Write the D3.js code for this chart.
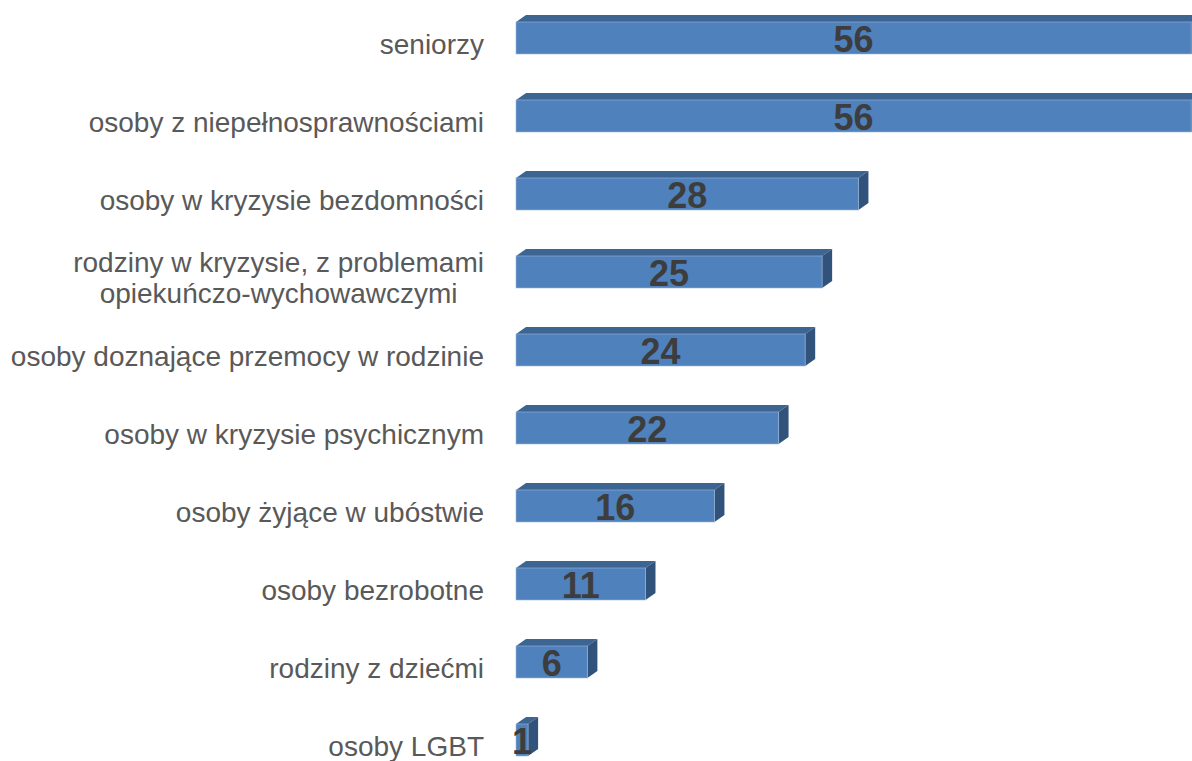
<!DOCTYPE html>
<html>
<head>
<meta charset="utf-8">
<script src="https://cdn.jsdelivr.net/npm/d3@7"></script>
<style>
  body { margin: 0; background: #fff; }
  svg { display: block; }
</style>
</head>
<body>
<div id="chart"></div>
<script>
// Categories (top to bottom) and their values (bar lengths,
// the printed labels are rounded)
const categories = [
    "seniorzy",
    "osoby z niepełnosprawnościami",
    "osoby w kryzysie bezdomności",
    "rodziny w kryzysie, z problemami\nopiekuńczo-wychowawczymi",
    "osoby doznające przemocy w rodzinie",
    "osoby w kryzysie psychicznym",
    "osoby żyjące w ubóstwie",
    "osoby bezrobotne",
    "rodziny z dziećmi",
    "osoby LGBT"
];
const values = [55.8, 55.8, 28.3, 25.3, 23.9, 21.7, 16.4, 10.7, 5.9, 1.0];

const width = 1192, height = 761;

const svg = d3.select("#chart")
    .append("svg")
    .attr("width", width)
    .attr("height", height);

// Scales
const x = d3.scaleLinear()
    .domain([0, 56])
    .range([516, 516 + 56 * 12.1]);

const y = d3.scaleBand()
    .domain(categories)
    .range([-1, 779])
    .paddingInner(0.59)
    .paddingOuter(0.295);

// 3D depth offset
const dx = 10, dy = 7;

const data = categories.map((c, i) => ({ cat: c, value: values[i] }));

const bars = svg.selectAll(".bar")
    .data(data)
    .enter()
    .append("g")
    .attr("class", "bar");

// top face
bars.append("path")
    .attr("fill", "#3d6591")
    .attr("d", d => {
        const x0 = x(0), x1 = x(d.value), yt = y(d.cat);
        return `M${x0},${yt} L${x0 + dx},${yt - dy} L${x1 + dx},${yt - dy} L${x1},${yt} Z`;
    });

// right side face
bars.append("path")
    .attr("fill", "#30527b")
    .attr("d", d => {
        const x1 = x(d.value), yt = y(d.cat), yb = yt + y.bandwidth();
        return `M${x1},${yt} L${x1 + dx},${yt - dy} L${x1 + dx},${yb - dy} L${x1},${yb} Z`;
    });

// front face
bars.append("rect")
    .attr("x", x(0))
    .attr("y", d => y(d.cat))
    .attr("width", d => x(d.value) - x(0))
    .attr("height", y.bandwidth())
    .attr("fill", "#4f81bd")
    .attr("stroke", "#9fb9dc")
    .attr("stroke-opacity", 0.6)
    .attr("stroke-width", 1);

// value labels
bars.append("text")
    .attr("x", d => (x(0) + x(d.value)) / 2)
    .attr("y", d => y(d.cat) + 30)
    .attr("text-anchor", "middle")
    .attr("font-family", "Liberation Sans, Arial, sans-serif")
    .attr("font-weight", "bold")
    .attr("font-size", 36)
    .attr("fill", "#3d3d3d")
    .text(d => Math.round(d.value));

// category labels
const labelRight = 484;
const labels = svg.append("g")
    .attr("font-family", "Liberation Sans, Arial, sans-serif")
    .attr("font-size", 28)
    .attr("fill", "#595959");

data.forEach(d => {
    const lines = d.cat.split("\n");
    const cy = y(d.cat) + y.bandwidth() / 2 + (lines.length > 1 ? 6 : 6);
    const lineH = 31;
    const t = labels.append("text")
        .attr("text-anchor", "middle");
    lines.forEach((ln, i) => {
        t.append("tspan")
            .attr("y", cy + (i - (lines.length - 1) / 2) * lineH)
            .attr("dy", "0.35em")
            .text(ln);
    });
    // right-align the block, keep lines centred on each other
    let maxW = 0;
    t.selectAll("tspan").each(function() {
        maxW = Math.max(maxW, this.getComputedTextLength());
    });
    t.selectAll("tspan").attr("x", labelRight - maxW / 2);
});
</script>
</body>
</html>
